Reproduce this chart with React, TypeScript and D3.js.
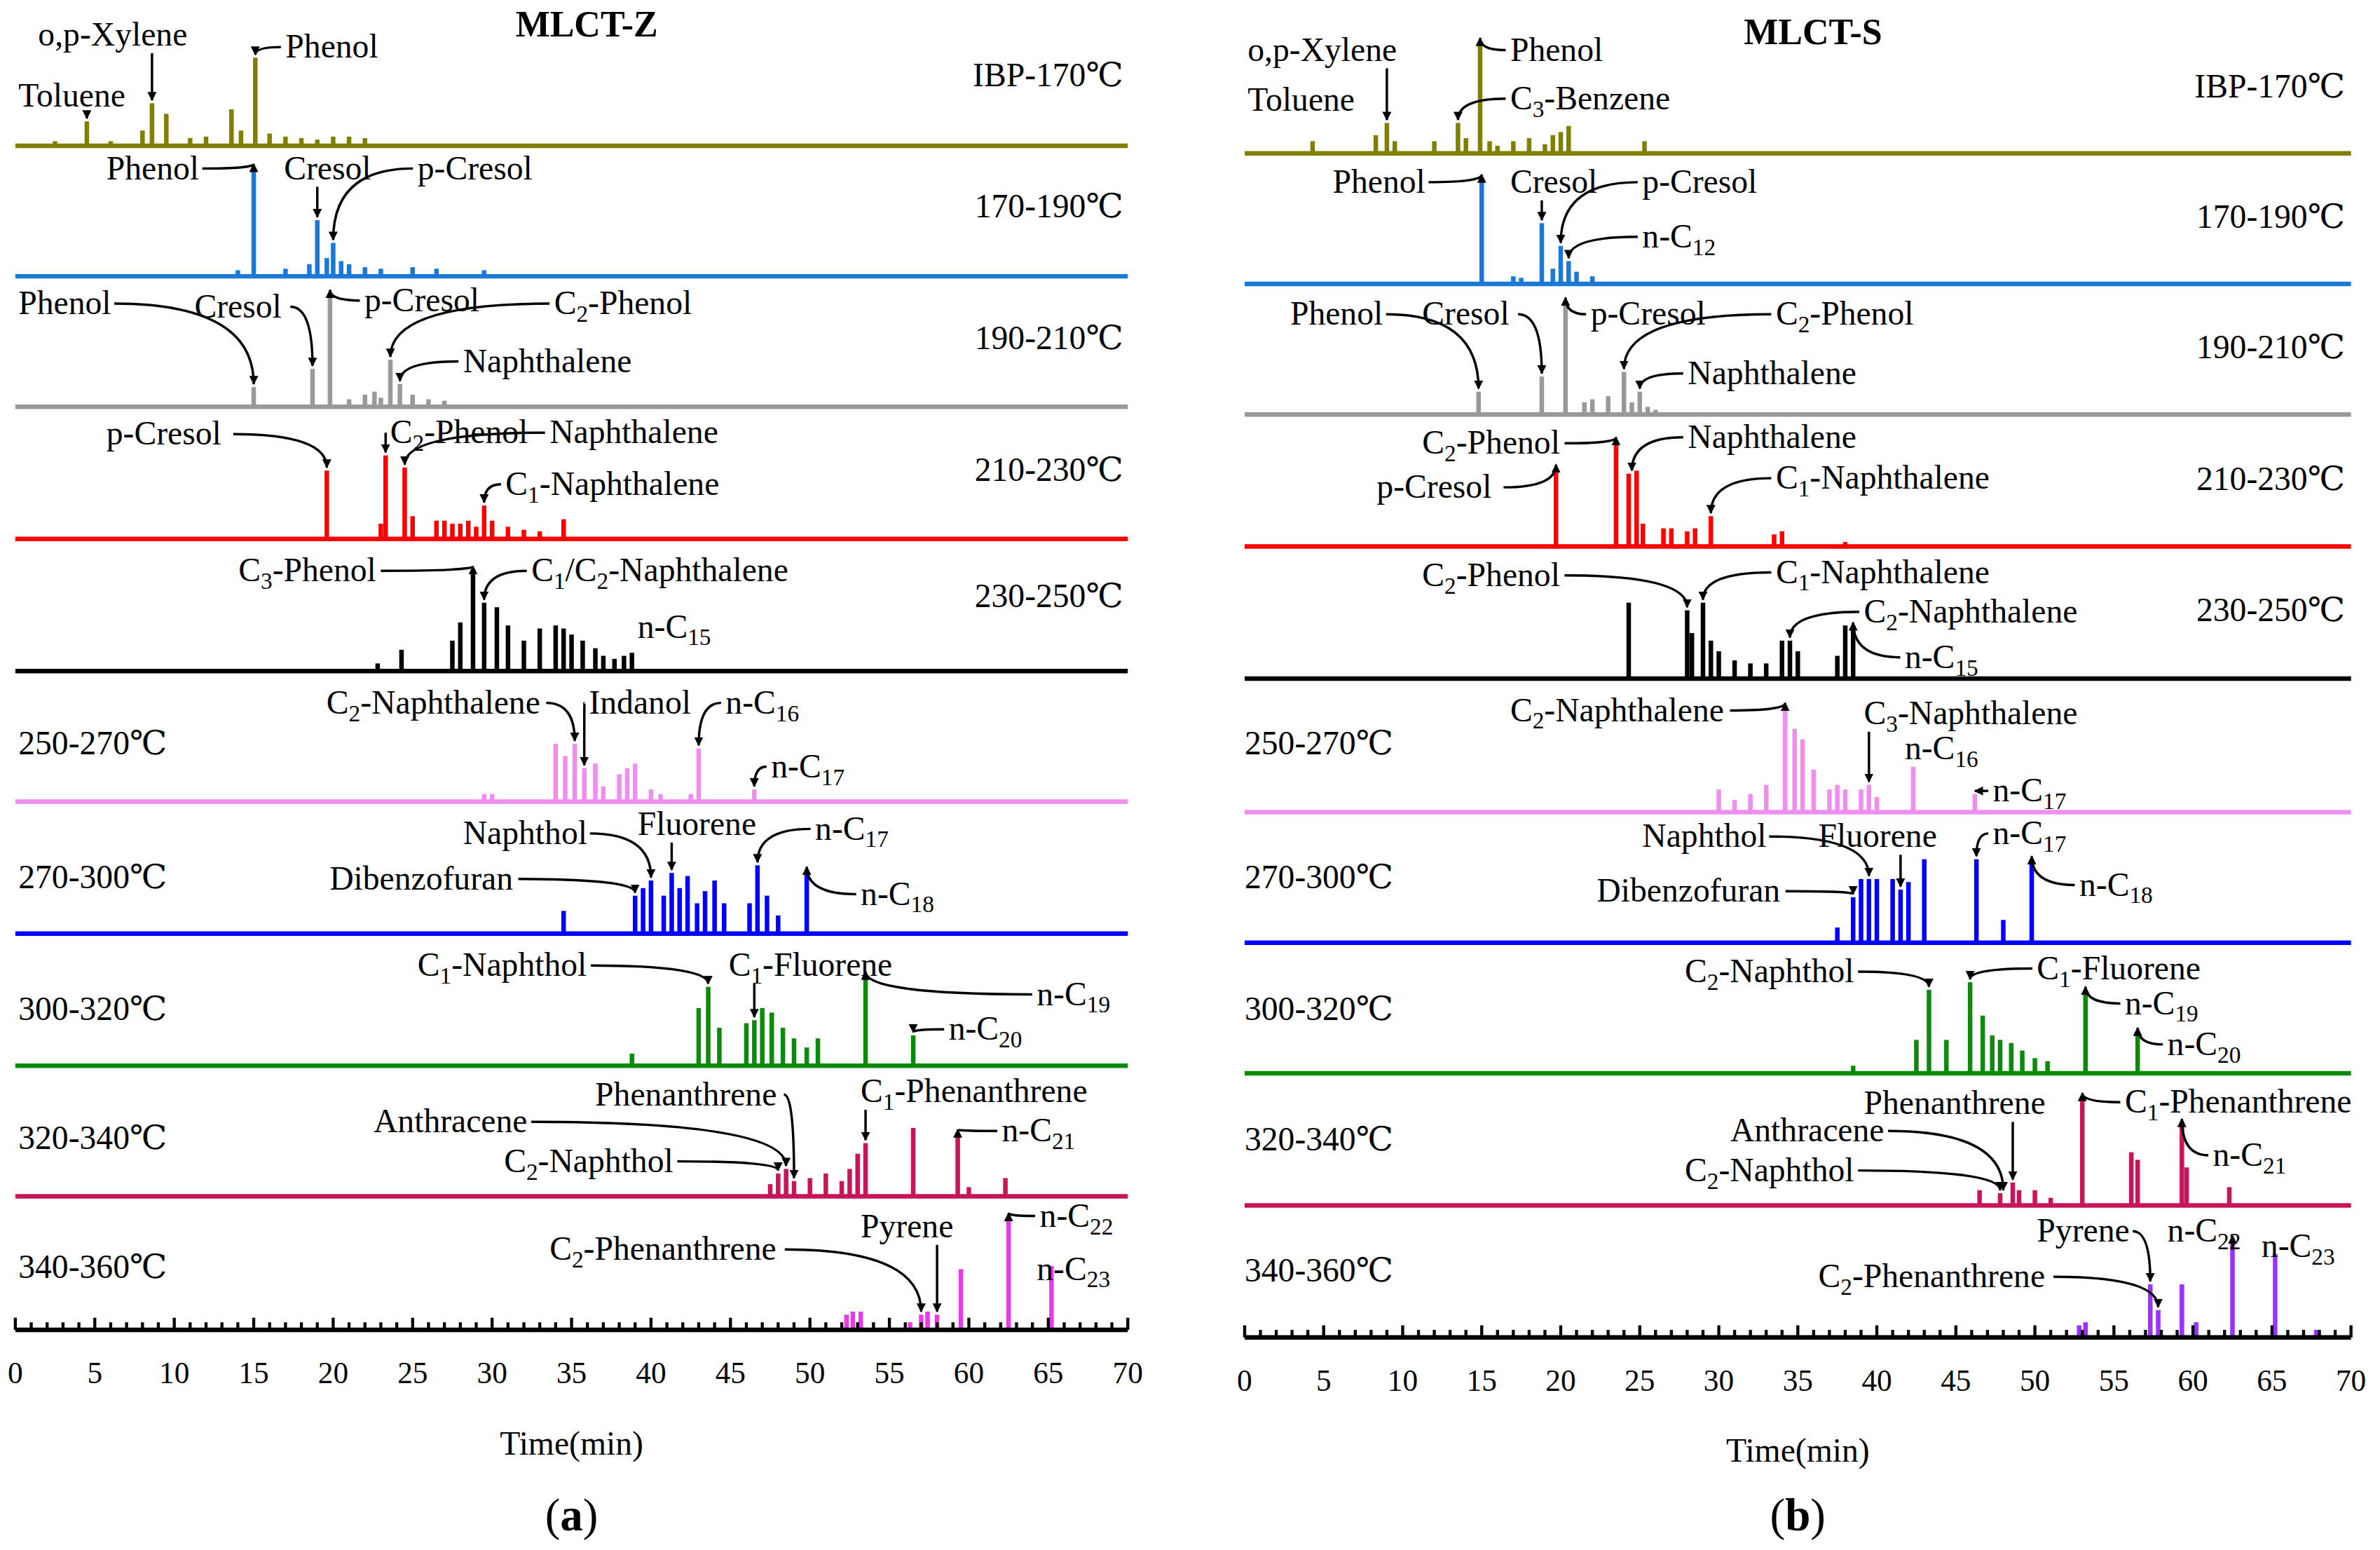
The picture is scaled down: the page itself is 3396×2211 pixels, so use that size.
import React from "react";
import * as d3 from "d3";

type Peak = [number, number]; // [time(min), height]
type Note = { row: number; text: string; x: number; y: number; t?: number };

const rowNames = ["IBP-170℃", "170-190℃", "190-210℃", "210-230℃", "230-250℃", "250-270℃", "270-300℃", "300-320℃", "320-340℃", "340-360℃"];
const colorsA = ["#808000", "#1a78d8", "#999999", "#ff0000", "#000000", "#f08ef0", "#0000ff", "#0b8a0b", "#c8145a", "#e83ae8"];
const colorsB = ["#808000", "#1a78d8", "#999999", "#ff0000", "#000000", "#f08ef0", "#0000ff", "#0b8a0b", "#c8145a", "#9b30ff"];
const xTicks = d3.range(0, 71, 5);

const peaksA: Peak[][] = [
  [[2.5, 3], [4.5, 16], [6, 3], [8, 10], [8.6, 28], [9.5, 21], [11, 5], [12, 6], [13.6, 24], [14.2, 10], [15.1, 58], [16, 8], [17, 6], [18, 5], [19, 4], [20, 6], [21, 6], [22, 5]],
  [[14, 4], [15, 72], [17, 5], [18.5, 8], [19, 37], [19.6, 12], [20, 22], [20.5, 10], [21, 8], [22, 6], [23, 5], [25, 6], [26.5, 5], [29.5, 4]],
  [[15, 13], [18.7, 25], [19.8, 75], [21, 5], [22, 8], [22.6, 10], [23, 6], [23.6, 31], [24.2, 15], [25, 8], [26, 5], [27, 4]],
  [[19.6, 45], [23, 10], [23.3, 55], [24.5, 47], [25, 15], [26.5, 12], [27, 12], [27.5, 10], [28, 10], [28.5, 12], [29, 8], [29.5, 22], [30, 12], [31, 8], [32, 6], [33, 5], [34.5, 13]],
  [[22.8, 5], [24.3, 14], [27.5, 20], [28, 32], [28.8, 67], [29.5, 45], [30.3, 42], [31, 30], [32, 20], [33, 28], [34, 30], [34.5, 28], [35, 24], [35.7, 20], [36.5, 15], [37, 10], [37.7, 8], [38.3, 10], [38.8, 12]],
  [[29.5, 5], [30, 5], [34, 38], [34.6, 30], [35.2, 38], [35.8, 22], [36.5, 25], [37, 10], [38, 18], [38.5, 22], [39, 25], [40, 8], [40.6, 5], [42.5, 5], [43, 35], [46.5, 8]],
  [[34.5, 15], [39, 25], [39.5, 30], [40, 35], [40.8, 25], [41.3, 40], [41.8, 30], [42.3, 38], [42.9, 20], [43.4, 28], [44, 35], [44.6, 20], [46.2, 20], [46.7, 45], [47.3, 25], [48, 12], [49.8, 42]],
  [[38.8, 8], [43, 38], [43.6, 52], [44.3, 25], [46, 28], [46.5, 30], [47, 38], [47.6, 35], [48.3, 25], [49, 18], [49.8, 12], [50.5, 18], [53.5, 60], [56.5, 20]],
  [[47.5, 8], [48, 15], [48.5, 18], [49, 10], [50, 12], [51, 15], [52, 10], [52.5, 18], [53, 28], [53.5, 35], [56.5, 45], [59.3, 42], [60, 6], [62.3, 12]],
  [[52.3, 10], [52.7, 12], [53.2, 12], [56.3, 5], [57, 10], [57.4, 12], [58, 10], [59.5, 40], [62.5, 75], [65.2, 42]],
];

const peaksB: Peak[][] = [
  [[4.3, 8], [8.3, 12], [9, 20], [9.5, 8], [12, 8], [13.5, 20], [14, 10], [14.9, 74], [15.5, 8], [16, 5], [17, 8], [18, 10], [19, 6], [19.5, 12], [20, 14], [20.5, 18], [25.3, 8]],
  [[15, 70], [17, 5], [17.5, 4], [18.8, 40], [19.5, 10], [20, 25], [20.5, 15], [21, 8], [22, 5]],
  [[14.8, 15], [18.8, 25], [20.3, 75], [21.5, 8], [22, 10], [23, 12], [24, 28], [24.5, 8], [25, 15], [25.5, 5], [26, 3]],
  [[19.7, 52], [23.5, 70], [24.3, 48], [24.8, 50], [25.2, 15], [26.5, 12], [27, 12], [28, 10], [28.5, 12], [29.5, 20], [33.5, 8], [34, 10], [38, 3]],
  [[24.3, 50], [28, 45], [28.3, 30], [29, 50], [29.5, 25], [30, 18], [31, 12], [32, 10], [33, 10], [34, 25], [34.5, 25], [35, 18], [37.5, 15], [38, 35], [38.5, 35]],
  [[30, 15], [31, 8], [32, 12], [33, 18], [34.2, 70], [34.8, 55], [35.3, 48], [36, 28], [37, 15], [37.5, 18], [38, 15], [39, 15], [39.5, 18], [40, 10], [42.3, 30], [46.2, 12]],
  [[37.5, 10], [38.5, 30], [39, 42], [39.5, 42], [40, 42], [41, 42], [41.5, 35], [42, 40], [43, 55], [46.3, 55], [48, 15], [49.8, 55]],
  [[38.5, 5], [42.5, 22], [43.3, 55], [44.4, 22], [45.9, 60], [46.7, 38], [47.3, 25], [47.8, 22], [48.5, 20], [49.2, 15], [50, 10], [50.8, 8], [53.2, 55], [56.5, 28]],
  [[46.5, 10], [47.8, 8], [48.6, 15], [49, 10], [50, 10], [51, 5], [53, 72], [56.1, 35], [56.5, 30], [59.3, 55], [59.6, 25], [62.3, 12]],
  [[52.8, 8], [53.2, 10], [57.3, 35], [57.8, 18], [59.3, 35], [60.2, 10], [62.5, 65], [65.2, 55], [67.8, 5]],
];

const notesA: Note[] = [
  { row: 0, text: "Toluene", x: 12, y: 70, t: 4.5 },
  { row: 0, text: "o,p-Xylene", x: 25, y: 30, t: 8.6 },
  { row: 0, text: "Phenol", x: 188, y: 38, t: 15.1 },
  { row: 1, text: "Phenol", x: 70, y: 118, t: 15 },
  { row: 1, text: "Cresol", x: 187, y: 118, t: 19 },
  { row: 1, text: "p-Cresol", x: 275, y: 118, t: 20 },
  { row: 2, text: "Phenol", x: 12, y: 207, t: 15 },
  { row: 2, text: "Cresol", x: 128, y: 209, t: 18.7 },
  { row: 2, text: "p-Cresol", x: 240, y: 205, t: 19.8 },
  { row: 2, text: "C_2-Phenol", x: 365, y: 207, t: 23.6 },
  { row: 2, text: "Naphthalene", x: 305, y: 245, t: 24.2 },
  { row: 3, text: "p-Cresol", x: 70, y: 293, t: 19.6 },
  { row: 3, text: "C_2-Phenol", x: 257, y: 292, t: 23.3 },
  { row: 3, text: "Naphthalene", x: 362, y: 292, t: 24.5 },
  { row: 3, text: "C_1-Naphthalene", x: 333, y: 326, t: 29.5 },
  { row: 4, text: "C_3-Phenol", x: 157, y: 383, t: 28.8 },
  { row: 4, text: "C_1/C_2-Naphthalene", x: 350, y: 383, t: 29.5 },
  { row: 4, text: "n-C_15", x: 420, y: 420 },
  { row: 5, text: "C_2-Naphthalene", x: 215, y: 470, t: 35.2 },
  { row: 5, text: "Indanol", x: 388, y: 470, t: 35.8 },
  { row: 5, text: "n-C_16", x: 478, y: 470, t: 43 },
  { row: 5, text: "n-C_17", x: 508, y: 512, t: 46.5 },
  { row: 6, text: "Naphthol", x: 305, y: 556, t: 40 },
  { row: 6, text: "Fluorene", x: 420, y: 550, t: 41.3 },
  { row: 6, text: "n-C_17", x: 537, y: 553, t: 46.7 },
  { row: 6, text: "Dibenzofuran", x: 217, y: 586, t: 39 },
  { row: 6, text: "n-C_18", x: 567, y: 596, t: 49.8 },
  { row: 7, text: "C_1-Naphthol", x: 275, y: 643, t: 43.6 },
  { row: 7, text: "C_1-Fluorene", x: 480, y: 643, t: 46.5 },
  { row: 7, text: "n-C_19", x: 683, y: 662, t: 53.5 },
  { row: 7, text: "n-C_20", x: 625, y: 685, t: 56.5 },
  { row: 8, text: "Phenanthrene", x: 392, y: 728, t: 49 },
  { row: 8, text: "C_1-Phenanthrene", x: 567, y: 726, t: 53.5 },
  { row: 8, text: "Anthracene", x: 246, y: 746, t: 48.5 },
  { row: 8, text: "C_2-Naphthol", x: 332, y: 772, t: 48 },
  { row: 8, text: "n-C_21", x: 660, y: 752, t: 59.3 },
  { row: 9, text: "C_2-Phenanthrene", x: 362, y: 830, t: 57 },
  { row: 9, text: "Pyrene", x: 567, y: 815, t: 58 },
  { row: 9, text: "n-C_22", x: 685, y: 808, t: 62.5 },
  { row: 9, text: "n-C_23", x: 683, y: 843 },
];

const notesB: Note[] = [
  { row: 0, text: "o,p-Xylene", x: 822, y: 40, t: 9 },
  { row: 0, text: "Toluene", x: 822, y: 73 },
  { row: 0, text: "Phenol", x: 995, y: 40, t: 14.9 },
  { row: 0, text: "C_3-Benzene", x: 995, y: 72, t: 13.5 },
  { row: 1, text: "Phenol", x: 878, y: 127, t: 15 },
  { row: 1, text: "Cresol", x: 995, y: 127, t: 18.8 },
  { row: 1, text: "p-Cresol", x: 1082, y: 127, t: 20 },
  { row: 1, text: "n-C_12", x: 1082, y: 163, t: 20.5 },
  { row: 2, text: "Phenol", x: 850, y: 214, t: 14.8 },
  { row: 2, text: "Cresol", x: 937, y: 214, t: 18.8 },
  { row: 2, text: "p-Cresol", x: 1048, y: 214, t: 20.3 },
  { row: 2, text: "C_2-Phenol", x: 1170, y: 214, t: 24 },
  { row: 2, text: "Naphthalene", x: 1112, y: 253, t: 25 },
  { row: 3, text: "C_2-Phenol", x: 937, y: 299, t: 23.5 },
  { row: 3, text: "p-Cresol", x: 907, y: 328, t: 19.7 },
  { row: 3, text: "Naphthalene", x: 1112, y: 295, t: 24.5 },
  { row: 3, text: "C_1-Naphthalene", x: 1170, y: 322, t: 29.5 },
  { row: 4, text: "C_2-Phenol", x: 937, y: 386, t: 28 },
  { row: 4, text: "C_1-Naphthalene", x: 1170, y: 384, t: 29 },
  { row: 4, text: "C_2-Naphthalene", x: 1228, y: 410, t: 34.5 },
  { row: 4, text: "n-C_15", x: 1255, y: 440, t: 38.5 },
  { row: 5, text: "C_2-Naphthalene", x: 995, y: 475, t: 34.2 },
  { row: 5, text: "C_3-Naphthalene", x: 1228, y: 477, t: 39.5 },
  { row: 5, text: "n-C_16", x: 1255, y: 500 },
  { row: 5, text: "n-C_17", x: 1313, y: 528, t: 46.2 },
  { row: 6, text: "Naphthol", x: 1082, y: 558, t: 39.5 },
  { row: 6, text: "Fluorene", x: 1198, y: 558, t: 41.5 },
  { row: 6, text: "n-C_17", x: 1313, y: 556, t: 46.3 },
  { row: 6, text: "Dibenzofuran", x: 1052, y: 594, t: 38.5 },
  { row: 6, text: "n-C_18", x: 1370, y: 590, t: 49.8 },
  { row: 7, text: "C_2-Naphthol", x: 1110, y: 647, t: 43.3 },
  { row: 7, text: "C_1-Fluorene", x: 1342, y: 645, t: 45.9 },
  { row: 7, text: "n-C_19", x: 1400, y: 668, t: 53.2 },
  { row: 7, text: "n-C_20", x: 1428, y: 695, t: 56.5 },
  { row: 8, text: "Phenanthrene", x: 1228, y: 734, t: 48.6 },
  { row: 8, text: "C_1-Phenanthrene", x: 1400, y: 733, t: 53 },
  { row: 8, text: "Anthracene", x: 1140, y: 752, t: 48 },
  { row: 8, text: "C_2-Naphthol", x: 1110, y: 778, t: 47.8 },
  { row: 8, text: "n-C_21", x: 1458, y: 768, t: 59.3 },
  { row: 9, text: "Pyrene", x: 1342, y: 818, t: 57.3 },
  { row: 9, text: "n-C_22", x: 1428, y: 818, t: 62.5 },
  { row: 9, text: "n-C_23", x: 1490, y: 828 },
  { row: 9, text: "C_2-Phenanthrene", x: 1198, y: 848, t: 57.8 },
];

const FONT = "'Liberation Serif', 'DejaVu Serif', serif";
const FS = 22;

// render "C_2-Phenol" with subscripts
const Label = ({ text, x, y, anchor = "start", size = FS }: any) => {
  const parts = text.split(/_(\d+)/);
  return (
    <text x={x} y={y} fontSize={size} fontFamily={FONT} textAnchor={anchor}>
      {parts.map((p: string, i: number) =>
        i % 2 === 1 ? (
          <tspan key={i} fontSize={size * 0.7} dy={5}>{p}</tspan>
        ) : (
          <tspan key={i} dy={i > 0 ? -5 : 0}>{p}</tspan>
        )
      )}
    </text>
  );
};

const textWidth = (s: string) => s.replace(/_/g, "").length * 10.2;

const Panel = ({ x0, x1, baselines, peaks, colors, notes, rightX, leftX, labelYs, title, titleY, tag }: any) => {
  const x = d3.scaleLinear().domain([0, 70]).range([x0, x1]);
  const axisY = baselines[9];
  return (
    <g>
      <text x={(x0 + x1) / 2 + 10} y={titleY} fontSize={24} fontWeight="bold" fontFamily={FONT} textAnchor="middle">{title}</text>
      {baselines.map((by: number, r: number) => (
        <g key={r}>
          {peaks[r].map((p: Peak, i: number) => (
            <rect key={i} x={x(p[0]) - 1.5} width={3} y={by - p[1]} height={p[1]} fill={colors[r]} />
          ))}
          <line x1={x0} x2={x1} y1={by} y2={by} stroke={r === 9 ? "#000" : colors[r]} strokeWidth={3} />
          <text x={r < 5 ? rightX : leftX} y={labelYs[r]} fontSize={FS} fontFamily={FONT} textAnchor={r < 5 ? "end" : "start"}>{rowNames[r]}</text>
        </g>
      ))}
      {d3.range(0, 71, 1).map((t) => (
        <line key={t} x1={x(t)} x2={x(t)} y1={axisY} y2={axisY - (t % 5 === 0 ? 8 : 5)} stroke="#000" strokeWidth={2} />
      ))}
      {xTicks.map((t) => (
        <text key={t} x={x(t)} y={axisY + 35} fontSize={20} fontFamily={FONT} textAnchor="middle">{t}</text>
      ))}
      <text x={x(35)} y={axisY + 82} fontSize={22} fontFamily={FONT} textAnchor="middle">Time(min)</text>
      <text x={x(35)} y={1008} fontSize={30} fontFamily={FONT} textAnchor="middle">(<tspan fontWeight="bold">{tag}</tspan>)</text>
      {notes.map((n: Note, i: number) => {
        const w = textWidth(n.text);
        let arrow = null;
        if (n.t !== undefined) {
          const px = x(n.t);
          const pk = peaks[n.row].reduce((a: Peak, b: Peak) => (Math.abs(b[0] - n.t!) < Math.abs(a[0] - n.t!) ? b : a));
          const py = baselines[n.row] - pk[1] - 2;
          let sx, sy;
          if (px > n.x + w) { sx = n.x + w + 2; sy = n.y - 7; }
          else if (px < n.x) { sx = n.x - 3; sy = n.y - 7; }
          else { sx = px; sy = n.y + 5; }
          const d = `M${sx},${sy} Q${px},${sy} ${px},${py}`;
          arrow = <path d={d} fill="none" stroke="#000" strokeWidth={1.6} markerEnd="url(#ah)" />;
        }
        return (
          <g key={i}>
            {arrow}
            <Label text={n.text} x={n.x} y={n.y} />
          </g>
        );
      })}
    </g>
  );
};

export default function App() {
  return (
    <svg width={3396} height={2211} viewBox="0 0 1568 1021" style={{ position: "absolute", left: 0, top: 0, background: "#fff" }}>
      <defs>
        <marker id="ah" viewBox="0 0 10 10" refX={9} refY={5} markerWidth={6} markerHeight={6} orient="auto-start-reverse" markerUnits="userSpaceOnUse">
          <path d="M0,0 L10,5 L0,10 z" fill="#000" />
        </marker>
      </defs>
      <rect width={1568} height={1021} fill="#fff" />
      <Panel x0={10} x1={743} baselines={[96, 182, 268, 355, 442, 528, 615, 702, 788, 876]} peaks={peaksA} colors={colorsA} notes={notesA}
        rightX={740} leftX={12} labelYs={[57, 143, 230, 317, 400, 497, 585, 672, 757, 842]} title="MLCT-Z" titleY={24} tag="a" />
      <Panel x0={820} x1={1549} baselines={[101, 187, 273, 360, 447, 535, 621, 707, 794, 881]} peaks={peaksB} colors={colorsB} notes={notesB}
        rightX={1545} leftX={820} labelYs={[64, 150, 236, 323, 409, 497, 585, 672, 758, 844]} title="MLCT-S" titleY={29} tag="b" />
    </svg>
  );
}
